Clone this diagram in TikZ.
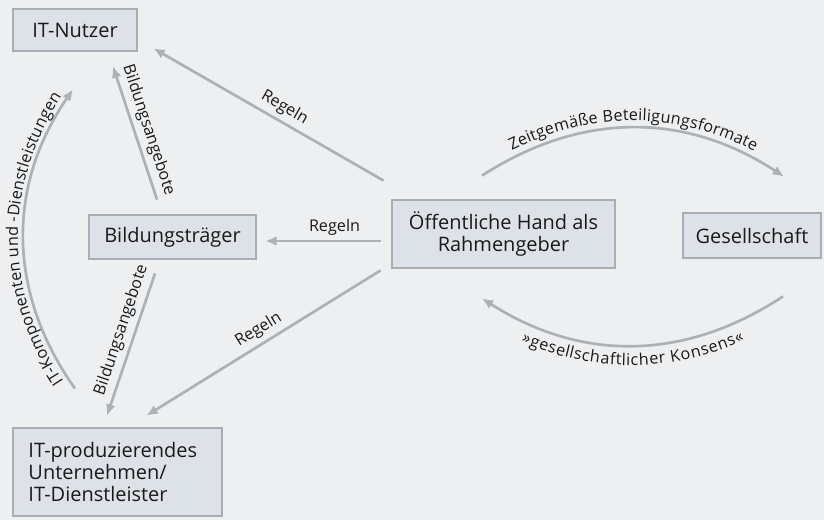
\documentclass[tikz,border=0pt]{standalone}
\usepackage{fontspec}
\setmainfont{Open Sans}
\usetikzlibrary{calc, arrows.meta, decorations.text}
\definecolor{hgrund}{HTML}{EEEFF1}
\definecolor{kastenfill}{HTML}{DCE2E8}
\definecolor{kastenrand}{HTML}{A8AEB1}
\definecolor{pfeilgrau}{HTML}{ABB1B4}
\definecolor{schrift}{HTML}{1A1A1A}
\newcommand*{\kastenfont}{\fontsize{14.2}{15.4}\selectfont}
\newcommand*{\pfeilfont}{\fontsize{11.5}{13}\selectfont}
\tikzset{
 akteur/.style={draw=kastenrand, fill=kastenfill, line width=2pt, text=schrift, font=\kastenfont, inner sep=0pt},
 pfeil/.style={draw=pfeilgrau, line width=1.9pt, -{Latex[length=8pt,width=7pt]}},
 beschr/.style={font=\pfeilfont, text=schrift, sloped, above, inner sep=3pt},
}

\begin{document}
\begin{tikzpicture}[x=0.025cm, y=0.025cm]
 \fill[hgrund] (0,0) rectangle (824,-520);
 \useasboundingbox (0,0) rectangle (824,-520);

 \node[akteur, minimum width=3.1cm, minimum height=1.05cm] (nutzer) at (75,-30) {IT-Nutzer};
 \node[akteur, minimum width=4.175cm, minimum height=1.1cm] (bild) at (172.5,-237) {Bildungsträger};
 \node[akteur, minimum width=5.575cm, minimum height=1.7cm, align=center] (oeff) at (503.5,-234) {Öffentliche Hand als\\Rahmengeber};
 \node[akteur, minimum width=3.45cm, minimum height=1.125cm] (ges) at (752,-235.5) {Gesellschaft};
 \node[akteur, minimum width=5.225cm, minimum height=2.2cm, text width=4.45cm, align=left] (itp) at (117.5,-472) {IT-produzierendes\\Unternehmen/\\IT-Dienstleister};

 % Regeln
 \draw[pfeil] ($(oeff.north west)+(-7,18)$) -- node[beschr, pos=0.46] {Regeln} ($(nutzer.south east)+(15,4)$);
 \draw[pfeil] ($(oeff.west)+(-10,-7)$) -- node[beschr, pos=0.40] {Regeln} ($(bild.east)+(8,-4)$);
 \draw[pfeil] ($(oeff.south west)+(-10,-1)$) -- node[beschr, pos=0.49] {Regeln} ($(itp.north east)+(-77,11)$);

 % Bildungsangebote
 \draw[pfeil] ($(bild.north)+(-15.5,14)$) -- node[beschr, pos=0.49] {Bildungsangebote} ($(nutzer.south)+(38,-14)$);
 \draw[pfeil] ($(bild.south)+(-17.5,-13)$) -- node[beschr, pos=0.43] {Bildungsangebote} ($(itp.north)+(-10.5,11)$);

 % Boegen
 \draw[pfeil, postaction={decorate, decoration={text along path, text align=center, raise=4pt, text color=schrift,
   text={|\pfeilfont|IT-Komponenten und -Dienstleistungen}}}]
   ($(itp.north)+(-42.5,38)$) to[bend left=35] ($(nutzer.south)+(-2,-37)$);
 \draw[pfeil, postaction={decorate, decoration={text along path, text align=center, raise=5pt, text color=schrift,
   text={|\pfeilfont|Zeitgemäße Beteiligungsformate}}}]
   ($(oeff.north)+(-21.5,23)$) to[bend left=33] ($(ges.north)+(32,35)$);
 \draw[pfeil] ($(ges.south)+(31,-37)$) to[bend left=33] ($(oeff.south)+(-21.5,-29)$);
 \path[decorate, decoration={text along path, text align=center, raise=-14pt, text color=schrift,
   text={|\pfeilfont|»gesellschaftlicher Konsens«}}]
   ($(oeff.south)+(-21.5,-29)$) to[bend right=33] ($(ges.south)+(31,-37)$);
\end{tikzpicture}
\end{document}
